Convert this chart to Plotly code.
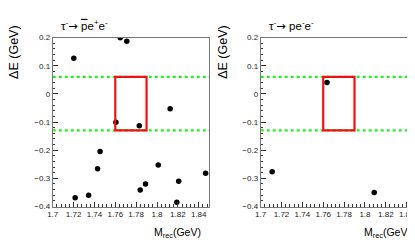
import plotly.graph_objects as go
from plotly.subplots import make_subplots

# Data: tau- -> pbar e+ e-
left_m = [1.7202, 1.7647, 1.7710, 1.8126, 1.7606, 1.7830, 1.7454, 1.7430,
          1.7215, 1.7344, 1.7839, 1.7890, 1.8012, 1.8208, 1.8190, 1.8466]
left_de = [0.126, 0.199, 0.187, -0.0525, -0.101, -0.113, -0.205, -0.266,
           -0.369, -0.360, -0.341, -0.320, -0.253, -0.310, -0.385, -0.282]

# Data: tau- -> p e- e-
right_m = [1.7636, 1.7110, 1.8089]
right_de = [0.040, -0.277, -0.350]

# Signal region
box_m = [1.76, 1.79]
box_de = [-0.13, 0.06]
band_de = [0.06, -0.13]
x_range = [1.7, 1.85]
y_range = [-0.4, 0.2]

arrow = "<span style='font-family:DejaVu Sans'>→</span>"
titles = ["τ<sup>-</sup>" + arrow + " <span style='text-decoration:overline'>p</span>e<sup>+</sup>e<sup>-</sup>",
          "τ<sup>-</sup>" + arrow + " pe<sup>-</sup>e<sup>-</sup>"]

fig = make_subplots(rows=1, cols=2)

W, H = 415, 243
doms = [[39.3 / W, 198 / W], [250.3 / W, 409 / W]]
ydom = [(H - 202) / H, (H - 26.5) / H]
ytitle_x = [13, 225]
xtitle_l = [140, 353]

for i, (mx, de) in enumerate([(left_m, left_de), (right_m, right_de)]):
    col = i + 1
    fig.add_trace(go.Scatter(x=mx, y=de, mode="markers",
                             marker=dict(color="black", size=5.5),
                             showlegend=False, hoverinfo="skip"), row=1, col=col)
    xa = "x" if i == 0 else "x2"
    ya = "y" if i == 0 else "y2"
    for b in band_de:
        fig.add_shape(type="line", xref=xa, yref=ya, x0=x_range[0], x1=x_range[1],
                      y0=b, y1=b, line=dict(color="#22ee22", width=2.2, dash="dot"))
    fig.add_shape(type="rect", xref=xa, yref=ya, x0=box_m[0], x1=box_m[1],
                  y0=box_de[0], y1=box_de[1], line=dict(color="#ee1111", width=2.2))
    xdom = doms[i]
    fig.add_annotation(text=titles[i], xref="paper", yref="paper",
                       x=xdom[0] + 6 / W, y=(H - 4) / H, xanchor="left", yanchor="top",
                       showarrow=False, font=dict(size=11.5, color="black"))
    fig.add_annotation(text="ΔE (GeV)", xref="paper", yref="paper",
                       x=ytitle_x[i] / W, y=(H - 52) / H, xanchor="center", yanchor="middle",
                       xshift=-13, yshift=10,
                       textangle=-90, showarrow=False, font=dict(size=12.5, color="black"))
    fig.add_annotation(text="M<sub>rec</sub>(GeV)", xref="paper", yref="paper",
                       x=xtitle_l[i] / W, y=(H - 230) / H, xanchor="left", yanchor="middle",
                       showarrow=False, font=dict(size=10.5, color="black"))

axis_common = dict(showgrid=False, zeroline=False, ticks="inside", ticklen=5,
                   tickcolor="#333", linecolor="#777", linewidth=1, mirror=True,
                   showline=True, tickfont=dict(size=8, color="#222"))

for i in range(2):
    sx = "xaxis" if i == 0 else "xaxis2"
    sy = "yaxis" if i == 0 else "yaxis2"
    fig.layout[sx].update(domain=doms[i], range=x_range, dtick=0.02, tick0=1.7,
                          minor=dict(ticks="inside", ticklen=2.5, dtick=0.004, tickcolor="#333"),
                          **axis_common)
    fig.layout[sy].update(domain=ydom, range=y_range, dtick=0.1, tick0=0,
                          minor=dict(ticks="inside", ticklen=2.5, dtick=0.02, tickcolor="#333"),
                          **axis_common)

fig.update_layout(width=W, height=H, margin=dict(l=0, r=0, t=0, b=0),
                  plot_bgcolor="white", paper_bgcolor="white",
                  font=dict(family="Liberation Sans, Arial, sans-serif"))

fig.write_html("out.html")
